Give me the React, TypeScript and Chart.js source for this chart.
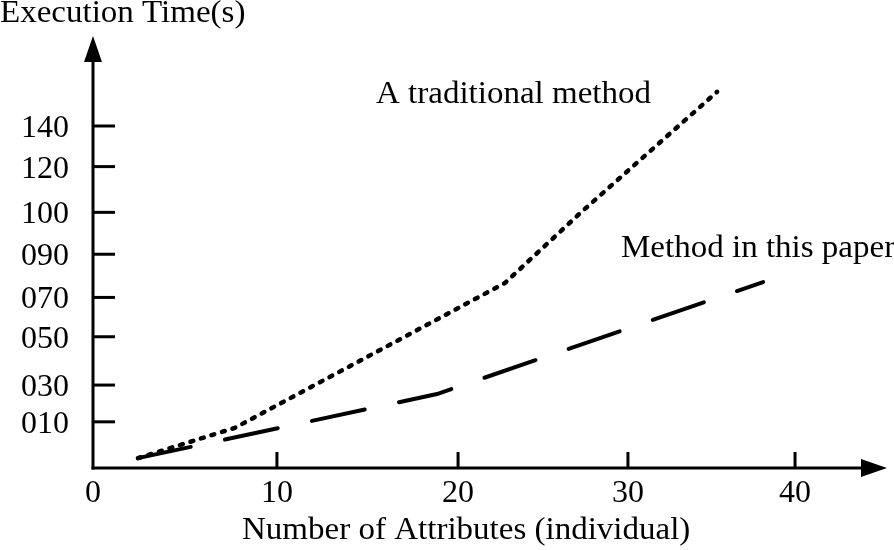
import React, { useEffect, useRef } from 'react';
import { Chart, registerables } from 'chart.js';

Chart.register(...registerables);

// ---- data (axis units) ----
const traditionalX = [2.56, 8.09, 23.48, 27.75, 35.56];
const traditionalY = [0.23, 0.94, 4.33, 5.96, 8.8];
const paperX = [2.56, 19.6, 38.18];
const paperY = [0.23, 1.73, 4.35];

const xTickLabels = ['0', '10', '20', '30', '40'];
const xTickValues = [0, 10.48, 20.8, 30.48, 40];
const yTickLabels = ['010', '030', '050', '070', '090', '100', '120', '140'];
const yTickValues = [1.08, 1.94, 3.07, 3.99, 5.0, 5.98, 7.05, 8.0];

const xMax = 45.24;
const yMax = 10.105;

const yTitle = 'Execution Time(s)';
const xTitle = 'Number of Attributes (individual)';
const traditionalLabel = 'A traditional method';
const paperLabel = 'Method in this paper';

const FONT = '"Liberation Serif", "Times New Roman", serif';

const axesPlugin = {
  id: 'handAxes',
  afterDraw(chart: any) {
    const ctx = chart.ctx;
    const xs = chart.scales.x;
    const ys = chart.scales.y;
    const x0 = xs.getPixelForValue(0);
    const y0 = ys.getPixelForValue(0);
    const top = chart.chartArea.top;
    const right = chart.chartArea.right;
    ctx.save();
    ctx.strokeStyle = '#000';
    ctx.fillStyle = '#000';
    ctx.lineWidth = 3;
    ctx.lineCap = 'butt';
    // y axis
    ctx.beginPath();
    ctx.moveTo(x0, y0 + 1.5);
    ctx.lineTo(x0, top + 20);
    ctx.stroke();
    ctx.beginPath();
    ctx.moveTo(x0, top);
    ctx.lineTo(x0 - 9, top + 26);
    ctx.lineTo(x0 + 9, top + 26);
    ctx.closePath();
    ctx.fill();
    // x axis
    ctx.beginPath();
    ctx.moveTo(x0 - 1.5, y0);
    ctx.lineTo(right - 20, y0);
    ctx.stroke();
    ctx.beginPath();
    ctx.moveTo(right, y0);
    ctx.lineTo(right - 26, y0 - 9);
    ctx.lineTo(right - 26, y0 + 9);
    ctx.closePath();
    ctx.fill();
    // tick marks (inward)
    ctx.lineWidth = 3;
    yTickValues.forEach((v) => {
      const py = ys.getPixelForValue(v);
      ctx.beginPath();
      ctx.moveTo(x0, py);
      ctx.lineTo(x0 + 22, py);
      ctx.stroke();
    });
    xTickValues.forEach((v) => {
      if (v === 0) return;
      const px = xs.getPixelForValue(v);
      ctx.beginPath();
      ctx.moveTo(px, y0);
      ctx.lineTo(px, y0 - 16);
      ctx.stroke();
    });
    // texts
    const drawText = (t: string, x: number, y: number) => {
      ctx.save();
      ctx.translate(x, y);
      ctx.scale(1.065, 1);
      ctx.font = '31px ' + FONT;
      ctx.textAlign = 'left';
      ctx.textBaseline = 'alphabetic';
      ctx.fillText(t, 0, 0);
      ctx.restore();
    };
    drawText(yTitle, 0, 22);
    drawText(xTitle, 242, 539);
    drawText(traditionalLabel, 376, 103);
    drawText(paperLabel, 621, 257);
    ctx.restore();
  },
};

export default function App() {
  const ref = useRef<HTMLCanvasElement | null>(null);
  useEffect(() => {
    if (!ref.current) return;
    const chart = new Chart(ref.current, {
      type: 'line',
      data: {
        datasets: [
          {
            label: traditionalLabel,
            data: traditionalX.map((x, i) => ({ x, y: traditionalY[i] })),
            borderColor: '#000',
            borderWidth: 4.5,
            borderDash: [3, 8],
            borderCapStyle: 'round',
            pointRadius: 0,
            tension: 0,
            fill: false,
          },
          {
            label: paperLabel,
            data: paperX.map((x, i) => ({ x, y: paperY[i] })),
            borderColor: '#000',
            borderWidth: 4,
            borderDash: [54, 35],
            borderCapStyle: 'round',
            pointRadius: 0,
            tension: 0,
            fill: false,
          },
        ],
      },
      options: {
        animation: false,
        responsive: false,
        devicePixelRatio: 1,
        layout: { padding: { top: 36, right: 7, left: 0, bottom: 0 } },
        plugins: { legend: { display: false }, tooltip: { enabled: false } },
        scales: {
          x: {
            type: 'linear',
            min: 0,
            max: xMax,
            grid: { display: false, drawTicks: false },
            border: { display: false },
            afterBuildTicks: (axis: any) => {
              axis.ticks = xTickValues.map((v) => ({ value: v }));
            },
            afterFit: (axis: any) => {
              axis.height = 82;
              axis.paddingLeft = 0;
              axis.paddingRight = 0;
            },
            ticks: {
              autoSkip: false,
              maxRotation: 0,
              padding: 6,
              color: '#000',
              font: { family: FONT, size: 32 },
              callback: (_v: any, i: number) => xTickLabels[i],
            },
          },
          y: {
            type: 'linear',
            min: 0,
            max: yMax,
            grid: { display: false, drawTicks: false },
            border: { display: false },
            afterBuildTicks: (axis: any) => {
              axis.ticks = yTickValues.map((v) => ({ value: v }));
            },
            afterFit: (axis: any) => {
              axis.width = 93;
              axis.paddingTop = 0;
              axis.paddingBottom = 0;
            },
            ticks: {
              autoSkip: false,
              padding: 24,
              labelOffset: 2.5,
              color: '#000',
              font: { family: FONT, size: 32 },
              callback: (_v: any, i: number) => yTickLabels[i],
            },
          },
        },
      },
      plugins: [axesPlugin],
    } as any);
    return () => chart.destroy();
  }, []);
  return (
    <div style={{ position: 'fixed', left: 0, top: 0, width: 894, height: 550, background: '#fff' }}>
      <canvas ref={ref} width={894} height={550} style={{ display: 'block' }} />
    </div>
  );
}
